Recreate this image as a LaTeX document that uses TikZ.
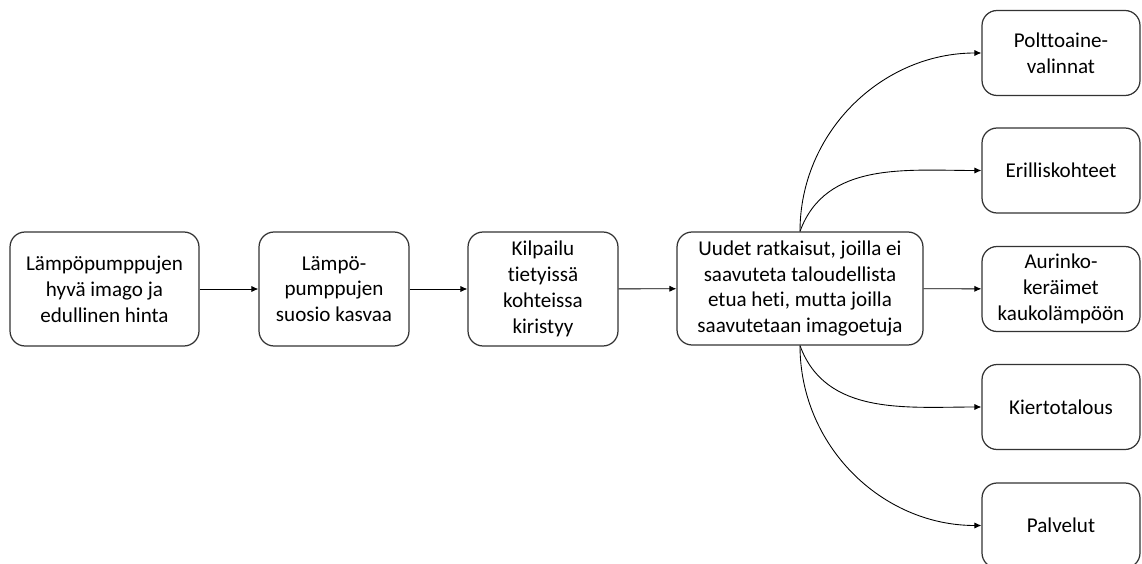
\documentclass[tikz,border=0pt]{standalone}
\usepackage{fontspec}
\setmainfont[Ligatures=NoCommon]{Carlito}
\usetikzlibrary{arrows.meta}

\begin{document}
\begin{tikzpicture}[x=0.02cm, y=-0.02cm,
    stage/.style={draw=black!80, line width=0.7pt, rounded corners=0.3cm, align=center,
      inner sep=0pt, font=\fontsize{12}{14.7}\selectfont},
    result/.style={stage, minimum width=3.16cm, minimum height=1.7cm},
    flow/.style={line width=0.5pt, -{Latex[length=4pt,width=3.5pt]}}]

     \useasboundingbox (0,0) rectangle (1142,564);

     % Define nodes
     \node[stage, minimum width=3.78cm, minimum height=2.28cm] (kuva) at (104.5,289)
       {Lämpöpumppujen\\hyvä imago ja\\edullinen hinta};
     \node[stage, minimum width=3cm, minimum height=2.28cm] (suosio) at (334,289)
       {Lämpö-\\pumppujen\\suosio kasvaa};
     \node[stage, minimum width=3cm, minimum height=2.28cm] (kilpailu) at (543,289)
       {Kilpailu\\tietyissä\\kohteissa\\kiristyy};
     \node[stage, minimum width=4.92cm, minimum height=2.26cm] (uudet) at (800,288.5)
       {Uudet ratkaisut, joilla ei\\saavuteta taloudellista\\etua heti, mutta joilla\\saavutetaan imagoetuja};

     \node[result] (poltto) at (1061,53) {Polttoaine-\\valinnat};
     \node[result] (erillis) at (1061,170.5) {Erilliskohteet};
     \node[result] (aurinko) at (1061,289) {Aurinko-\\keräimet\\kaukolämpöön};
     \node[result] (kierto) at (1061,407) {Kiertotalous};
     \node[result] (palvelut) at (1061,525.5) {Palvelut};

     % Connect the nodes
     \draw[flow] (kuva) -- (suosio);
     \draw[flow] (suosio) -- (kilpailu);
     \draw[flow] (kilpailu) -- (uudet);
     \draw[flow] (uudet) -- (aurinko);

     \draw[flow] (uudet.north) to[out=90, in=180] (poltto.west);
     \draw[flow] (uudet.north) to[out=70, in=180] (erillis.west);
     \draw[flow] (uudet.south) to[out=-70, in=180] (kierto.west);
     \draw[flow] (uudet.south) to[out=-90, in=180] (palvelut.west);

\end{tikzpicture}
\end{document}
